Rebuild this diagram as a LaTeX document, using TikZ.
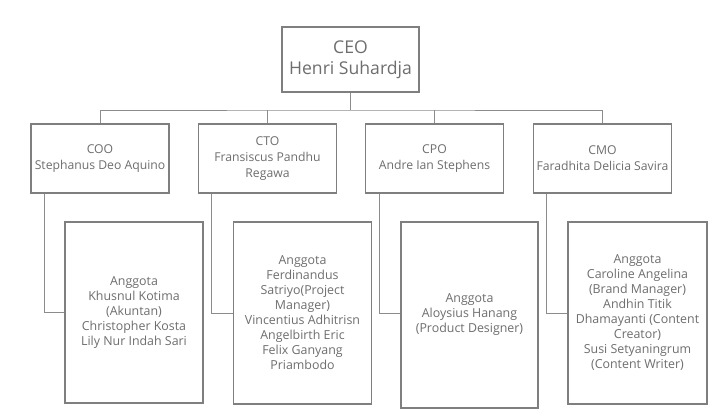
\documentclass[tikz,border=0pt]{standalone}
\usepackage{fontspec}
\setmainfont{Open Sans}
\definecolor{boxline}{HTML}{7F7F7F}
\definecolor{conn}{HTML}{8C8C8C}
\definecolor{txt}{HTML}{6E6E6E}
\begin{document}
\begin{tikzpicture}[x=1pt,y=-1pt,
  box/.style={draw=boxline,line width=1.1pt,fill=white,inner sep=0pt,align=center,text=txt},
  topbox/.style={box,minimum width=137pt,minimum height=65pt,font=\fontsize{17.6}{21}\selectfont},
  midbox/.style={box,minimum width=138pt,minimum height=69pt,font=\fontsize{12.2}{16}\selectfont},
  subbox/.style={box,minimum width=138pt,font=\fontsize{12.4}{15}\selectfont},
  link/.style={draw=conn,line width=1pt}]
\useasboundingbox (0,0) rectangle (718,416);
\node[topbox] (ceo) at (350.5,59.5) {CEO\\Henri Suhardja};
\node[midbox] (coo) at (100,158.5) {COO\\Stephanus Deo Aquino};
\node[midbox] (cto) at (267.5,158.5) {CTO\\Fransiscus Pandhu\\Regawa};
\node[midbox] (cpo) at (434.5,158.5) {CPO\\Andre Ian Stephens};
\node[midbox] (cmo) at (602.5,158.5) {CMO\\Faradhita Delicia Savira};
\node[subbox,minimum height=181pt] (cooc) at (134,312.5) {Anggota\\Khusnul Kotima\\(Akuntan)\\Christopher Kosta\\Lily Nur Indah Sari};
\node[subbox,minimum height=182pt] (ctoc) at (302.5,313) {Anggota\\Ferdinandus\\Satriyo(Project\\Manager)\\Vincentius Adhitrisn\\Angelbirth Eric\\Felix Ganyang\\Priambodo};
\node[subbox,minimum height=186pt,minimum width=137pt] (cpoc) at (469.5,315) {Anggota\\Aloysius Hanang\\(Product Designer)};
\node[subbox,minimum height=182pt,minimum width=139pt] (cmoc) at (637.5,313) {Anggota\\Caroline Angelina\\(Brand Manager)\\Andhin Titik\\Dhamayanti (Content\\Creator)\\Susi Setyaningrum\\(Content Writer)};
\coordinate (bus) at (350.5,110);
\draw[link] (ceo.south) -- (bus);
\draw[link] (coo.north) |- (bus) -| (cmo.north);
\draw[link] (cto.north) -- (cto.north |- bus);
\draw[link] (cpo.north) -- (cpo.north |- bus);
\draw[link] ([xshift=14pt]coo.south west) |- (cooc.west);
\draw[link] ([xshift=14pt]cto.south west) |- (ctoc.west);
\draw[link] ([xshift=15pt]cpo.south west) |- ([yshift=2pt]cpoc.west);
\draw[link] ([xshift=14pt]cmo.south west) |- (cmoc.west);
\end{tikzpicture}
\end{document}
